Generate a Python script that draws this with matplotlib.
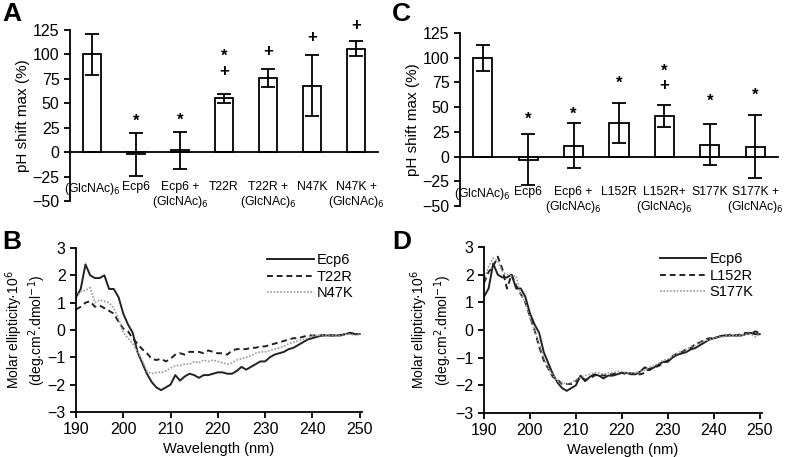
import matplotlib
matplotlib.use("Agg")
import matplotlib.pyplot as plt
import numpy as np

plt.rcParams['font.family'] = ['Liberation Sans', 'DejaVu Sans']

# ---------------- data ----------------
cats_A = ["(GlcNAc)$_6$", "Ecp6", "Ecp6 +\n(GlcNAc)$_6$", "T22R", "T22R +\n(GlcNAc)$_6$", "N47K", "N47K +\n(GlcNAc)$_6$"]
vals_A = [100, -2, 2, 55, 76, 68, 106]
err_A = [21, 22, 19, 4.5, 9, 31, 8]
marks_A = ["", "*", "*", "*\n+", "+", "+", "+"]
mark_y_A = [0, 32, 33, 90, 103, 117, 130]

cats_C = ["(GlcNAc)$_6$", "Ecp6", "Ecp6 +\n(GlcNAc)$_6$", "L152R", "L152R+\n(GlcNAc)$_6$", "S177K", "S177K +\n(GlcNAc)$_6$"]
vals_C = [100, -3, 11, 34, 41, 12, 10]
err_C = [13, 26, 23, 20, 11, 21, 32]
marks_C = ["", "*", "*", "*", "*\n+", "*", "*"]
mark_y_C = [0, 38, 43, 74, 79, 56, 62]

yticks_bar = [-50, -25, 0, 25, 50, 75, 100, 125]

wl = list(range(190, 251))
ecp6 = [1.2, 1.5, 2.4, 2.0, 1.9, 1.9, 2.0, 1.5, 1.5, 1.2, 0.6, 0.2, -0.1, -0.8, -1.2, -1.6, -1.9, -2.1, -2.2,
        -2.1, -2.0, -1.65, -1.85, -1.7, -1.6, -1.65, -1.75, -1.65, -1.65, -1.6, -1.55, -1.55, -1.6, -1.6, -1.5,
        -1.35, -1.45, -1.35, -1.25, -1.15, -1.15, -1.0, -0.9, -0.85, -0.8, -0.7, -0.65, -0.55, -0.45, -0.35,
        -0.3, -0.25, -0.2, -0.2, -0.2, -0.2, -0.2, -0.15, -0.1, -0.15, -0.15]
t22r = [0.75, 0.85, 1.0, 1.05, 0.85, 0.9, 0.8, 0.7, 0.6, 0.3, 0.05, -0.05, -0.3, -0.5, -0.7, -0.85, -1.05, -1.1,
        -1.05, -1.15, -1.05, -0.9, -0.85, -0.9, -0.8, -0.8, -0.8, -0.85, -0.75, -0.8, -0.85, -0.85, -0.9, -0.75,
        -0.7, -0.7, -0.7, -0.65, -0.65, -0.6, -0.6, -0.55, -0.5, -0.45, -0.4, -0.35, -0.3, -0.3, -0.25, -0.2,
        -0.2, -0.2, -0.2, -0.18, -0.2, -0.2, -0.18, -0.15, -0.12, -0.15, -0.15]
n47k = [1.2, 1.4, 1.45, 1.55, 1.0, 1.1, 1.05, 1.0, 0.8, 0.4, -0.1, -0.3, -0.5, -0.8, -1.1, -1.5, -1.6, -1.55,
        -1.55, -1.5, -1.4, -1.3, -1.3, -1.25, -1.25, -1.15, -1.2, -1.1, -1.15, -1.1, -1.15, -1.2, -1.25, -1.2,
        -1.1, -1.05, -1.0, -0.95, -0.85, -0.8, -0.8, -0.75, -0.7, -0.65, -0.6, -0.5, -0.45, -0.4, -0.35, -0.3,
        -0.2, -0.2, -0.2, -0.2, -0.2, -0.2, -0.2, -0.15, -0.15, -0.2, -0.15]
l152r = [1.7, 2.1, 2.3, 2.65, 2.2, 1.5, 2.0, 1.6, 1.3, 1.0, 0.5, 0.0, -0.6, -1.1, -1.4, -1.7, -1.8, -1.95, -1.95,
         -1.95, -1.85, -1.7, -1.8, -1.75, -1.65, -1.6, -1.65, -1.6, -1.6, -1.55, -1.55, -1.6, -1.55, -1.6, -1.6,
         -1.55, -1.4, -1.35, -1.3, -1.2, -1.1, -0.95, -0.85, -0.8, -0.7, -0.65, -0.5, -0.45, -0.35, -0.3, -0.3,
         -0.25, -0.2, -0.2, -0.15, -0.2, -0.15, -0.1, -0.15, -0.05, -0.1]
s177k = [1.8, 2.3, 2.6, 2.5, 2.1, 2.0, 1.95, 1.95, 1.3, 1.0, 0.4, 0.0, -0.5, -1.0, -1.4, -1.65, -1.85, -1.9, -1.95,
         -1.9, -1.8, -1.7, -1.65, -1.6, -1.55, -1.55, -1.6, -1.55, -1.55, -1.5, -1.5, -1.55, -1.55, -1.55, -1.5,
         -1.45, -1.35, -1.3, -1.2, -1.1, -1.05, -0.95, -0.85, -0.75, -0.7, -0.6, -0.55, -0.45, -0.4, -0.35, -0.3,
         -0.25, -0.25, -0.2, -0.2, -0.2, -0.2, -0.15, -0.15, -0.25, -0.15]

# ---------------- figure ----------------
fig = plt.figure(figsize=(7.85, 4.57), dpi=100)
W, H = 785, 457

def ax_px(l, t, r, b):
    return fig.add_axes([l / W, 1 - b / H, (r - l) / W, (b - t) / H])

def bar_panel(ax, cats, vals, errs, marks, mark_y):
    x = np.arange(len(cats))
    ax.bar(x, vals, width=0.42, color='white', edgecolor='black', linewidth=1.3, zorder=2)
    ax.errorbar(x, vals, yerr=errs, fmt='none', ecolor='black', elinewidth=1.3, capsize=5, capthick=1.3, zorder=3)
    for xi, m, my in zip(x, marks, mark_y):
        if m:
            ax.text(xi, my, m, ha='center', va='center', fontsize=12, fontweight='bold', linespacing=1.0)
    ax.set_xlim(-0.5, len(cats) - 0.5)
    ax.set_ylim(-50, 125)
    ax.set_yticks(yticks_bar)
    ax.spines['top'].set_visible(False)
    ax.spines['right'].set_visible(False)
    ax.spines['bottom'].set_position(('data', 0))
    ax.spines['left'].set_linewidth(1.3)
    ax.spines['bottom'].set_linewidth(1.3)
    ax.set_xticks(x)
    ax.set_xticklabels(cats, fontsize=8.8, va='top', linespacing=1.1)
    ax.tick_params(axis='x', length=0, pad=21)
    ax.tick_params(axis='y', direction='out', length=4, width=1.3, labelsize=11.5)
    ax.set_ylabel("pH shift max (%)", fontsize=11, labelpad=2)

def cd_panel(ax, series, labels, styles, label_x):
    for ys, lab, st in zip(series, labels, styles):
        ax.plot(wl, ys, label=lab, **st)
    ax.set_xlim(190, 250.5)
    ax.set_ylim(-3, 3)
    ax.set_xticks(range(190, 251, 10))
    ax.set_yticks(range(-3, 4))
    ax.spines['top'].set_visible(False)
    ax.spines['right'].set_visible(False)
    ax.spines['left'].set_linewidth(1.3)
    ax.spines['bottom'].set_linewidth(1.3)
    ax.tick_params(direction='out', length=4, width=1.3, labelsize=11.5)
    ax.set_xlabel("Wavelength (nm)", fontsize=10.5, labelpad=3)
    ax.set_ylabel("Molar ellipticity·10$^6$\n(deg.cm$^2$.dmol$^{-1}$)", fontsize=10, linespacing=1.1,
                  va='center')
    ax.yaxis.set_label_coords(label_x, 0.5)
    ax.legend(loc='upper right', bbox_to_anchor=(1.0, 1.02), frameon=False, fontsize=10.5,
              handlelength=3.2, handletextpad=0.2, labelspacing=0.15, borderaxespad=0.2)

styles = [dict(color='#222222', lw=1.4, ls='-'),
          dict(color='#222222', lw=1.4, ls=(0, (3, 2))),
          dict(color='#9a9a9a', lw=1.2, ls=(0, (1, 1)))]

axA = ax_px(70, 30, 378, 201)
bar_panel(axA, cats_A, vals_A, err_A, marks_A, mark_y_A)
axC = ax_px(460, 33, 778, 206)
bar_panel(axC, cats_C, vals_C, err_C, marks_C, mark_y_C)

axB = ax_px(76, 248, 362, 412)
cd_panel(axB, [ecp6, t22r, n47k], ["Ecp6", "T22R", "N47K"], styles, -0.175)
axD = ax_px(484, 247, 762, 413)
cd_panel(axD, [ecp6, l152r, s177k], ["Ecp6", "L152R", "S177K"], styles, -0.19)

for lab, xp, yp in [("A", 2, 2), ("C", 392, 2), ("B", 2, 230), ("D", 392, 230)]:
    fig.text(xp / W, 1 - yp / H, lab, fontsize=19, fontweight='bold', ha='left', va='top')

fig.savefig("out.png", dpi=100)
